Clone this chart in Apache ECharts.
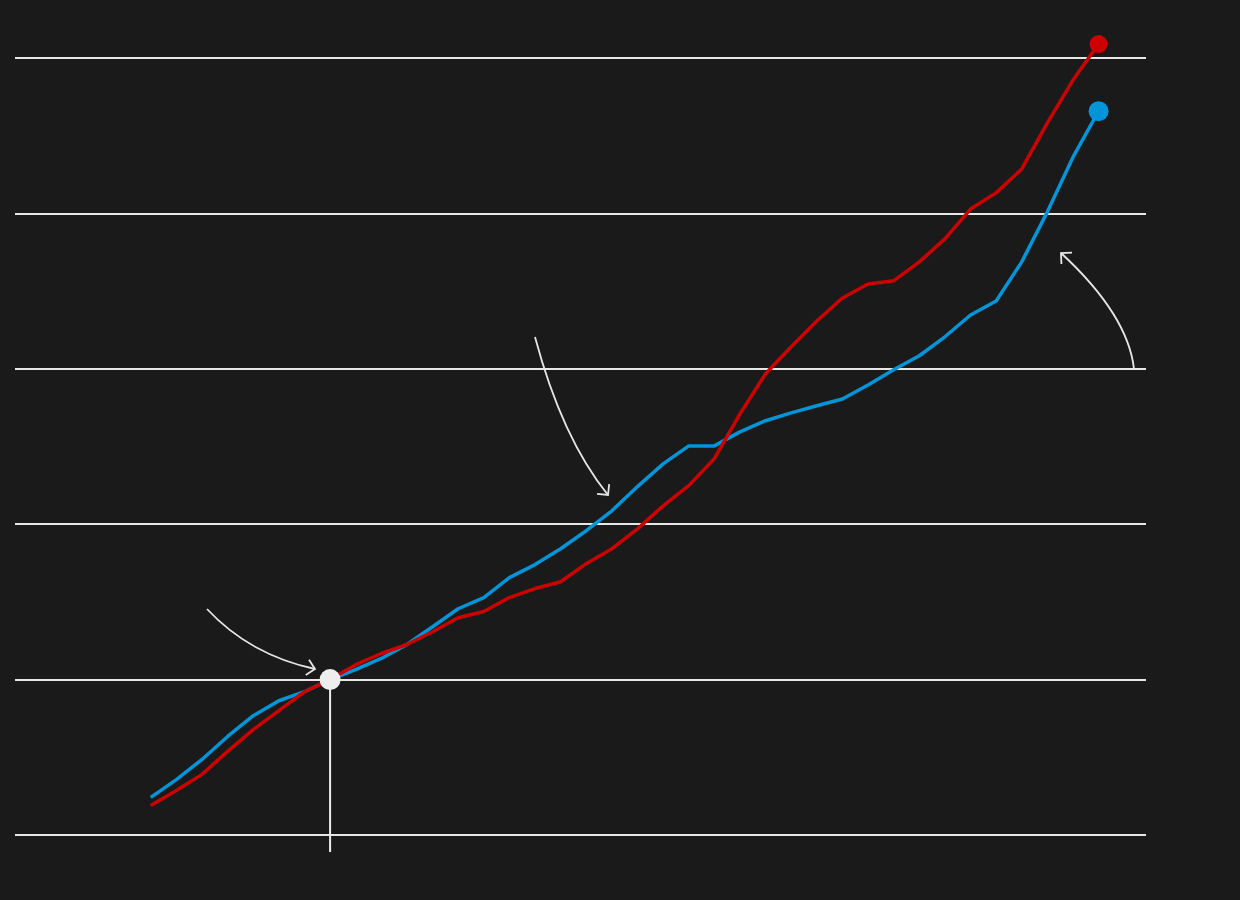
<!DOCTYPE html>
<html>
<head>
<meta charset="utf-8">
<style>
  html, body { margin: 0; background: #1a1a1a; }
  #chart { width: 1240px; height: 900px; }
</style>
<script src="https://cdn.jsdelivr.net/npm/echarts@6/dist/echarts.min.js"></script>
</head>
<body>
<div id="chart"></div>
<script>
// index = 100 in the base year
const years = [1980, 1981, 1982, 1983, 1984, 1985, 1986, 1987, 1988, 1989,
  1990, 1991, 1992, 1993, 1994, 1995, 1996, 1997, 1998, 1999,
  2000, 2001, 2002, 2003, 2004, 2005, 2006, 2007, 2008, 2009,
  2010, 2011, 2012, 2013, 2014, 2015, 2016, 2017]
const redValues = [59.5, 64.3, 69.5, 76.9, 83.9, 90.0, 96.1, 100, 104.8, 108.4,
  111.3, 115.4, 119.9, 121.9, 126.4, 129.3, 131.5, 137.3, 142.1, 148.5,
  155.9, 162.4, 171.1, 185.5, 198.4, 207.1, 215.4, 222.8, 227.3, 228.3,
  234.4, 241.8, 251.4, 256.6, 264.3, 279.1, 292.9, 304.5]
const blueValues = [62.1, 67.8, 74.3, 81.7, 88.4, 93.2, 96.1, 100, 103.2, 106.8,
  111.3, 117.0, 122.8, 126.4, 132.8, 137.0, 142.1, 147.9, 154.3, 162.1,
  169.4, 175.2, 175.2, 179.7, 183.3, 185.8, 188.1, 190.3, 194.8, 199.7,
  204.2, 210.3, 217.3, 221.8, 234.4, 250.5, 268.1, 282.9]
const baseYear = 1987
const baseValue = 100
const yMin = 50
const yMax = 300
const yStep = 50

const RED = '#cc0000'
const BLUE = '#0095d9'
const INK = '#e6e6e6'

const chart = echarts.init(document.getElementById('chart'))
const last = years.length - 1
const pairs = vals => years.map((y, i) => [y, vals[i]])

chart.setOption({
  backgroundColor: '#1a1a1a',
  animation: false,
  grid: { left: 15, right: 94, top: 58, bottom: 65 },
  xAxis: {
    type: 'value',
    min: years[0] - 5.3,
    max: years[last] + 1.85,
    show: false
  },
  yAxis: {
    type: 'value',
    min: yMin,
    max: yMax,
    interval: yStep,
    axisLabel: { show: false },
    axisLine: { show: false },
    axisTick: { show: false },
    splitLine: { lineStyle: { color: INK, width: 2 } }
  },
  series: [
    {
      type: 'line', data: pairs(blueValues), showSymbol: false, clip: false,
      lineStyle: { color: BLUE, width: 3.5 }, z: 3
    },
    {
      type: 'line', data: pairs(redValues), showSymbol: false, clip: false,
      lineStyle: { color: RED, width: 3.5 }, z: 4
    },
    {
      type: 'scatter', clip: false, z: 20,
      itemStyle: { opacity: 1 },
      data: [
        { value: [years[last], blueValues[last]], symbolSize: 20, itemStyle: { color: BLUE, opacity: 1 } },
        { value: [years[last], redValues[last]], symbolSize: 18, itemStyle: { color: RED, opacity: 1 } },
        { value: [baseYear, baseValue], symbolSize: 21, itemStyle: { color: '#eeeeee', opacity: 1 } }
      ]
    }
  ]
})

// curved annotation arrows (pixel space)
function arrow(p0, c, p2) {
  const dx = p2[0] - c[0], dy = p2[1] - c[1]
  const len = Math.hypot(dx, dy)
  const bx = -dx / len, by = -dy / len
  const arm = 11, a = Math.PI / 4
  const rot = s => [p2[0] + arm * (bx * Math.cos(s * a) - by * Math.sin(s * a)),
                    p2[1] + arm * (bx * Math.sin(s * a) + by * Math.cos(s * a))]
  const style = { stroke: INK, lineWidth: 1.8, fill: null }
  return [
    { type: 'bezierCurve', shape: { x1: p0[0], y1: p0[1], cpx1: c[0], cpy1: c[1], x2: p2[0], y2: p2[1] }, style },
    { type: 'polyline', shape: { points: [rot(1), p2, rot(-1)] }, style }
  ]
}

const base = chart.convertToPixel({ gridIndex: 0 }, [baseYear, baseValue])
const floor = chart.convertToPixel({ gridIndex: 0 }, [baseYear, yMin])

chart.setOption({
  graphic: [
    {
      type: 'line', z: 1,
      shape: { x1: base[0], y1: base[1], x2: base[0], y2: floor[1] + 17 },
      style: { stroke: '#eeeeee', lineWidth: 2 }
    },
    ...arrow([207, 609], [250, 655], [315, 669]),
    ...arrow([535, 337], [562, 438], [608, 495]),
    ...arrow([1134, 369], [1128, 315], [1061, 253])
  ]
})

window.addEventListener('resize', () => chart.resize())
</script>
</body>
</html>
